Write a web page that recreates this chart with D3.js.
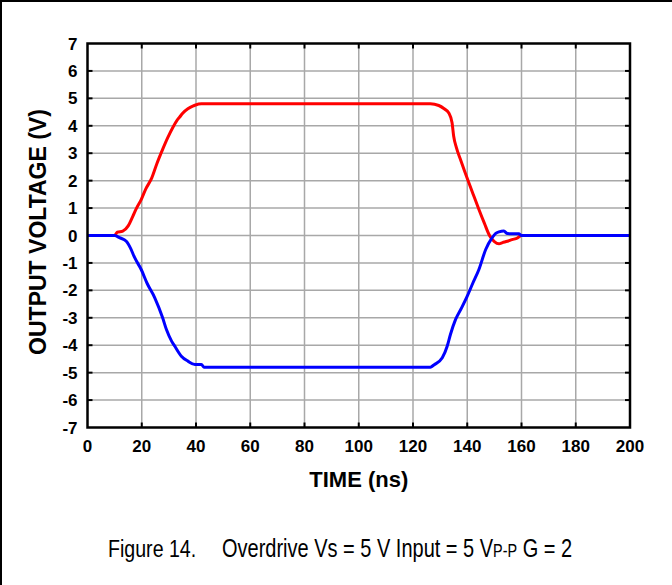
<!DOCTYPE html>
<html><head><meta charset="utf-8">
<script src="https://cdn.jsdelivr.net/npm/d3@7"></script>
<style>body{margin:0;background:#fff}svg{display:block}</style>
</head><body>
<script>
const redTime = [0,10,11,13,15,16.7,18,19.8,21.5,23.7,25.5,27.7,29.5,31.5,33,34,35,37,38.8,39.6,42,126.4,129.5,131.5,133.2,134.4,135,136,137.5,139,140.6,142.5,144.3,146.3,148.3,150,151.7,153,154.8,156.5,158.5,159.7];
const redVolt = [0,0,0.12,0.16,0.35,0.7,0.98,1.31,1.7,2.1,2.6,3.14,3.55,3.95,4.2,4.32,4.45,4.62,4.72,4.75,4.8,4.8,4.74,4.62,4.47,4.11,3.62,3.2,2.77,2.35,1.92,1.42,0.95,0.45,-0.02,-0.22,-0.3,-0.26,-0.21,-0.15,-0.09,0.0];
const blueTime = [0,10,11.8,14.3,15.8,17.4,19.8,22,24.8,27.7,29.1,31,32.2,34.6,37,39.6,42,42.9,126.4,127.7,130.8,132.6,133.8,135.7,138,140,142,144.3,146.8,149.2,150.5,151.7,153.5,154.8,157,159,160,200];
const blueVolt = [0,0,-0.08,-0.21,-0.45,-0.81,-1.24,-1.75,-2.27,-3.0,-3.43,-3.85,-4.04,-4.4,-4.58,-4.7,-4.7,-4.8,-4.8,-4.72,-4.46,-4.04,-3.61,-3.06,-2.62,-2.21,-1.75,-1.24,-0.51,-0.08,0.08,0.13,0.16,0.07,0.06,0.06,0.0,0];
const xTicks = [0,20,40,60,80,100,120,140,160,180,200];
const yTicks = [-7,-6,-5,-4,-3,-2,-1,0,1,2,3,4,5,6,7];

const W = 672, H = 585;
const m = {left: 87.5, right: 630, top: 43.5, bottom: 427.5};
const svg = d3.select("body").append("svg").attr("width", W).attr("height", H);

// outer frame (top & left)
svg.append("line").attr("x1",0).attr("x2",W).attr("y1",1).attr("y2",1).attr("stroke","#000").attr("stroke-width",2);
svg.append("line").attr("x1",1).attr("x2",1).attr("y1",0).attr("y2",H).attr("stroke","#000").attr("stroke-width",2);

const x = d3.scaleLinear().domain([0,200]).range([m.left, m.right]);
const y = d3.scaleLinear().domain([-7,7]).range([m.bottom, m.top]);

// grid
const g = svg.append("g");
g.selectAll(".vg").data(xTicks.slice(1,-1)).join("line")
  .attr("x1", d=>x(d)).attr("x2", d=>x(d)).attr("y1", m.top).attr("y2", m.bottom)
  .attr("stroke","#a8a8a8").attr("stroke-width",1.5);
g.selectAll(".hg").data(yTicks.slice(1,-1)).join("line")
  .attr("x1", m.left).attr("x2", m.right).attr("y1", d=>y(d)).attr("y2", d=>y(d))
  .attr("stroke","#a8a8a8").attr("stroke-width",1.5);

// inner ticks on all sides
const tl = 5;
const tk = svg.append("g").attr("stroke","#000").attr("stroke-width",2);
xTicks.slice(1,-1).forEach(d=>{
  tk.append("line").attr("x1",x(d)).attr("x2",x(d)).attr("y1",m.bottom).attr("y2",m.bottom-tl);
  tk.append("line").attr("x1",x(d)).attr("x2",x(d)).attr("y1",m.top).attr("y2",m.top+tl);
});
yTicks.slice(1,-1).forEach(d=>{
  tk.append("line").attr("x1",m.left).attr("x2",m.left+tl).attr("y1",y(d)).attr("y2",y(d));
  tk.append("line").attr("x1",m.right).attr("x2",m.right-tl).attr("y1",y(d)).attr("y2",y(d));
});

// curves
const line = d3.line().x(d=>x(d[0])).y(d=>y(d[1])).curve(d3.curveMonotoneX);
const red = d3.zip(redTime, redVolt), blue = d3.zip(blueTime, blueVolt);
svg.append("path").datum(red).attr("d", line).attr("fill","none").attr("stroke","#ff0000").attr("stroke-width",3).attr("stroke-linejoin","round");
svg.append("path").datum(blue).attr("d", line).attr("fill","none").attr("stroke","#0000ff").attr("stroke-width",3).attr("stroke-linejoin","round");

// frame
svg.append("rect").attr("x",m.left).attr("y",m.top).attr("width",m.right-m.left).attr("height",m.bottom-m.top)
  .attr("fill","none").attr("stroke","#000").attr("stroke-width",2.5);

// tick labels
const font = "'Liberation Sans', Arial, sans-serif";
svg.append("g").selectAll("text").data(yTicks).join("text")
  .attr("x", m.left-10).attr("y", d=>y(d)).attr("dy","0.36em")
  .attr("text-anchor","end").attr("font-family",font).attr("font-weight","bold").attr("font-size",17)
  .text(d=>d);
svg.append("g").selectAll("text").data(xTicks).join("text")
  .attr("x", d=>x(d)).attr("y", 452)
  .attr("text-anchor","middle").attr("font-family",font).attr("font-weight","bold").attr("font-size",17)
  .text(d=>d);

// axis titles
svg.append("text").attr("x", (m.left+m.right)/2).attr("y", 487).attr("text-anchor","middle")
  .attr("font-family",font).attr("font-weight","bold").attr("font-size",22).text("TIME (ns)");
svg.append("text").attr("transform","translate(46,232) rotate(-90)").attr("text-anchor","middle")
  .attr("font-family",font).attr("font-weight","bold").attr("font-size",23).text("OUTPUT VOLTAGE (V)");

// caption
const cap = svg.append("g").attr("transform","translate(108,557) scale(0.8,1)");
cap.append("text").attr("x",0).attr("y",0).attr("font-family",font).attr("font-size",24.5).text("Figure 14.");
const t2 = cap.append("text").attr("x",(222-108)/0.8).attr("y",0).attr("font-family",font).attr("font-size",25);
t2.append("tspan").text("Overdrive Vs = 5 V Input = 5 V");
t2.append("tspan").attr("font-size",18).text("P-P");
t2.append("tspan").text(" G = 2");
</script>
</body></html>
